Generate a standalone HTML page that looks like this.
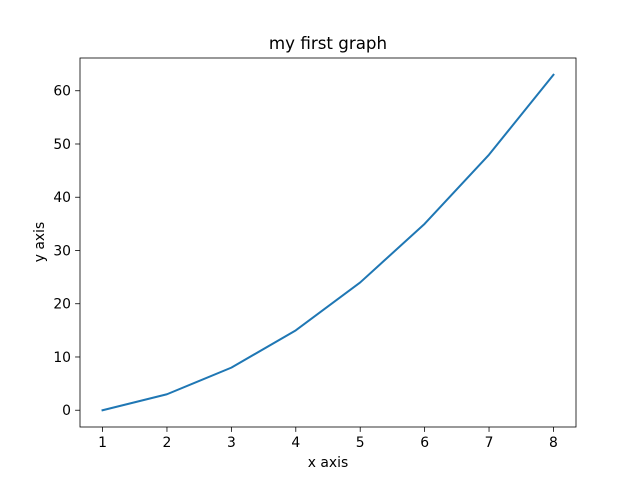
<!DOCTYPE html>
<html><head><meta charset="utf-8"><style>
body{margin:0;background:#fff}
svg{display:block;font-family:"DejaVu Sans","Liberation Sans",sans-serif}
</style></head><body>
<svg id="chart" width="640" height="480">
<rect width="640" height="480" fill="#fff"/>
<text x="328" y="49" text-anchor="middle" font-size="16.7">my first graph</text>
<g id="plot"></g>
<rect x="80" y="58" width="496" height="369" fill="none" stroke="#000" stroke-width="0.8"/>
<text x="328" y="467" text-anchor="middle" font-size="13.9">x axis</text>
<text transform="translate(44,242) rotate(-90)" text-anchor="middle" font-size="13.9">y axis</text>
</svg>
<script>
const xValues=[1,2,3,4,5,6,7,8];
const yValues=[0,3,8,15,24,35,48,63];
const xTicks=[1,2,3,4,5,6,7,8];
const yTicks=[0,10,20,30,40,50,60];
const NS="http://www.w3.org/2000/svg";
const L=80,R=576,T=58,B=427;
const xmin=Math.min(...xValues),xmax=Math.max(...xValues);
const ymin=Math.min(...yValues),ymax=Math.max(...yValues);
const xpad=(xmax-xmin)*0.05,ypad=(ymax-ymin)*0.05;
const xs=v=>L+(v-(xmin-xpad))/((xmax+xpad)-(xmin-xpad))*(R-L);
const ys=v=>B-(v-(ymin-ypad))/((ymax+ypad)-(ymin-ypad))*(B-T);
const g=document.getElementById('plot');
function mk(t,a){const e=document.createElementNS(NS,t);for(const k in a)e.setAttribute(k,a[k]);g.appendChild(e);return e;}
xTicks.forEach(v=>{const x=xs(v);
const l=mk('line',{x1:x,x2:x,y1:B,y2:B+4.9,stroke:'#000','stroke-width':0.8});


const t=mk('text',{x:x,y:B+20,'text-anchor':'middle','font-size':13.9});t.textContent=v;

});
yTicks.forEach(v=>{const y=ys(v);
const l=mk('line',{x1:L-4.9,x2:L,y1:y,y2:y,stroke:'#000','stroke-width':0.8});


const t=mk('text',{x:L-9,y:y+5,'text-anchor':'end','font-size':13.9});t.textContent=v;

});
const p=mk('polyline',{points:xValues.map((x,i)=>xs(x)+','+ys(yValues[i])).join(' '),fill:'none',stroke:'#1f77b4','stroke-width':2,'stroke-linejoin':'round','stroke-linecap':'square'});


</script>
</body></html>
